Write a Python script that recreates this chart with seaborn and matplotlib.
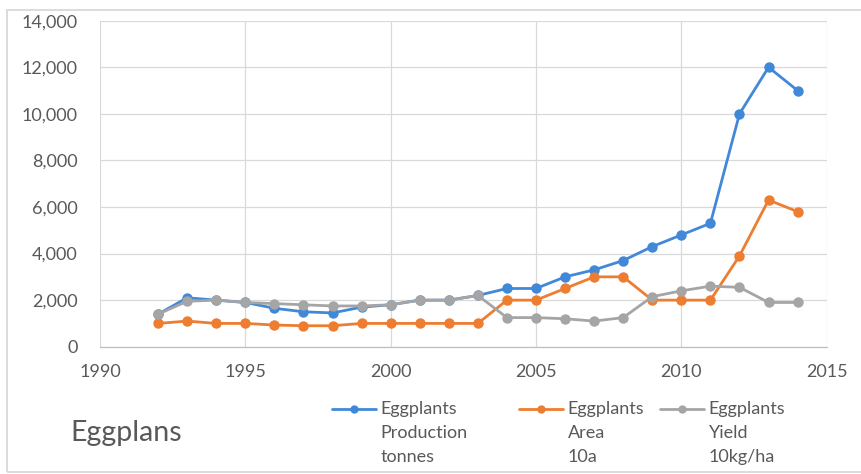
import matplotlib
matplotlib.use("Agg")
import matplotlib.pyplot as plt
import pandas as pd
import seaborn as sns
from matplotlib.patches import Rectangle

# Eggplant statistics by year
years = list(range(1992, 2015))
production = [1400, 2100, 2000, 1900, 1650, 1500, 1450, 1700, 1800, 2000, 2000, 2200,
              2500, 2500, 3000, 3300, 3700, 4300, 4800, 5300, 10000, 12000, 11000]
area = [1000, 1100, 1000, 1000, 930, 900, 900, 1000, 1000, 1000, 1000, 1000,
        2000, 2000, 2500, 3000, 3000, 2000, 2000, 2000, 3900, 6300, 5800]
yield_ = [1400, 1950, 2000, 1900, 1850, 1800, 1750, 1750, 1800, 2000, 2000, 2200,
          1250, 1250, 1200, 1100, 1250, 2150, 2400, 2600, 2550, 1900, 1900]
series_labels = ["Eggplants\nProduction\ntonnes", "Eggplants\nArea\n10a", "Eggplants\nYield\n10kg/ha"]
x_ticks = [1990, 1995, 2000, 2005, 2010, 2015]
y_ticks = list(range(0, 14001, 2000))
title = "Eggplans"

colors = ["#4189D8", "#ED7D31", "#A5A5A5"]
text_color = "#595959"
grid_color = "#D9D9D9"

df = pd.DataFrame({
    "year": years * 3,
    "value": production + area + yield_,
    "series": [series_labels[0]] * len(years) + [series_labels[1]] * len(years)
              + [series_labels[2]] * len(years),
})

sns.set_style("white")
plt.rcParams["font.family"] = ["Lato", "DejaVu Sans"]

W, H = 861, 474
fig = plt.figure(figsize=(W / 100, H / 100), dpi=100)
ax = fig.add_axes([100 / W, 1 - 346.7 / H, 726.7 / W, 326 / H])

sns.lineplot(data=df, x="year", y="value", hue="series", hue_order=series_labels,
             palette=colors, marker="o", markersize=7.5, markeredgewidth=0,
             linewidth=2.0, legend=False, ax=ax)

ax.set_xlim(1990, 2015)
ax.set_ylim(0, 14000)
ax.set_xticks(x_ticks)
ax.set_yticks(y_ticks)
ax.set_yticklabels([f"{v:,}" for v in y_ticks])
ax.set_xlabel("")
ax.set_ylabel("")
ax.grid(True, color=grid_color, linewidth=0.9)
ax.set_axisbelow(True)
for side in ["top", "left", "right"]:
    ax.spines[side].set_visible(False)
ax.spines["bottom"].set_color("#BFBFBF")
ax.spines["bottom"].set_linewidth(0.9)
ax.tick_params(axis="both", length=0, labelsize=13, colors=text_color)
ax.tick_params(axis="y", pad=16)
ax.tick_params(axis="x", pad=12.5)

# Legend entries, one per series, handle aligned with the first text line
handles = ax.get_lines()[:3]
legend_x = [332, 519, 660]
for h, lab, lx in zip(handles, series_labels, legend_x):
    leg = fig.legend([h], [lab], loc="upper left",
                     bbox_to_anchor=(lx / W, 1 - 401 / H),
                     frameon=False, borderpad=0, borderaxespad=0,
                     handlelength=2.45, handletextpad=0.25, fontsize=13,
                     labelcolor=text_color)
    for t in leg.get_texts():
        t.set_linespacing(1.6)
    lh = leg.legend_handles[0]
    lh.set_ydata(lh.get_ydata() + 17.3)
    lh.set_markersize(6)

fig.text(70 / W, 1 - 433 / H, title, fontsize=20.5, color=text_color,
         ha="left", va="center")

# Chart frame
fig.patches.append(Rectangle((7 / W, 2 / H), 1.2, 1 - 12 / H, transform=fig.transFigure,
                             fill=False, edgecolor=grid_color, linewidth=1.3))

fig.savefig("out.png", dpi=100)
